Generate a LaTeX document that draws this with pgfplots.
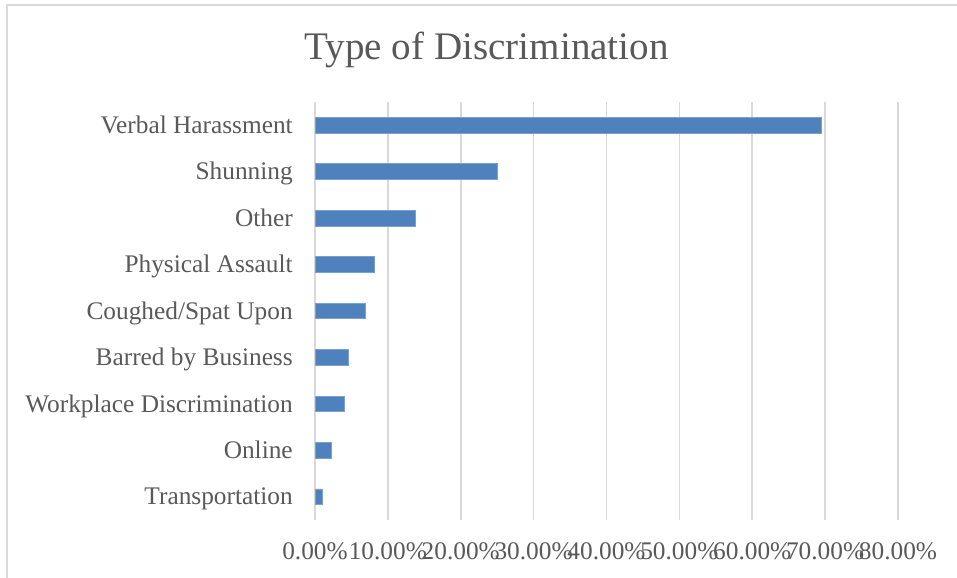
\documentclass[border=0pt]{standalone}
\usepackage{fontspec}
\setmainfont{Liberation Serif}
\usepackage{pgfplots}
\pgfplotsset{compat=1.18}

\definecolor{barblue}{HTML}{4F81BD}
\definecolor{txtgray}{HTML}{595959}
\definecolor{gridgray}{HTML}{D9D9D9}

\begin{document}
\begin{tikzpicture}
% page = 957 x 578 px, 1 px = 0.75 pt
\path[use as bounding box] (0,0) rectangle (717.75pt,-433.5pt);
\draw[gridgray, line width=0.8pt] (5.25pt,-433.5pt) -- (5.25pt,-3.75pt) -- (717.75pt,-3.75pt);

\node[anchor=base, text=txtgray, font=\fontsize{29.3}{35}\selectfont]
    at (365pt,-44.5pt) {Type of Discrimination};

\begin{axis}[
    at={(236.25pt,-390pt)}, anchor=south west,
    scale only axis,
    width=437.25pt, height=313.5pt,
    xbar, bar width=11.7pt, bar shift=0pt,
    xmin=0, xmax=80,
    ymin=-0.5, ymax=8.5,
    y dir=reverse,
    axis line style={draw=none},
    major tick length=0pt,
    xtick={0,10,...,80},
    xticklabels={0.00\%,10.00\%,20.00\%,30.00\%,40.00\%,50.00\%,60.00\%,70.00\%,80.00\%},
    ytick={0,...,8},
    yticklabels={Verbal Harassment,Shunning,Other,Physical Assault,Coughed/Spat Upon,Barred by Business,Workplace Discrimination,Online,Transportation},
    tick label style={font=\fontsize{19}{23}\selectfont, text=txtgray, inner sep=0pt},
    y tick label style={text height=16.2pt, text depth=4pt},
    yticklabel shift=16.5pt,
    xticklabel shift=17pt,
    xmajorgrids,
    grid style={gridgray, line width=1.2pt},
]
\addplot[fill=barblue, draw=barblue!75!white, line width=0.6pt] coordinates {
    (69.5,0)
    (25.0,1)
    (13.8,2)
    (8.2,3)
    (6.9,4)
    (4.6,5)
    (4.0,6)
    (2.2,7)
    (1.0,8)
};
\end{axis}
\end{tikzpicture}
\end{document}
